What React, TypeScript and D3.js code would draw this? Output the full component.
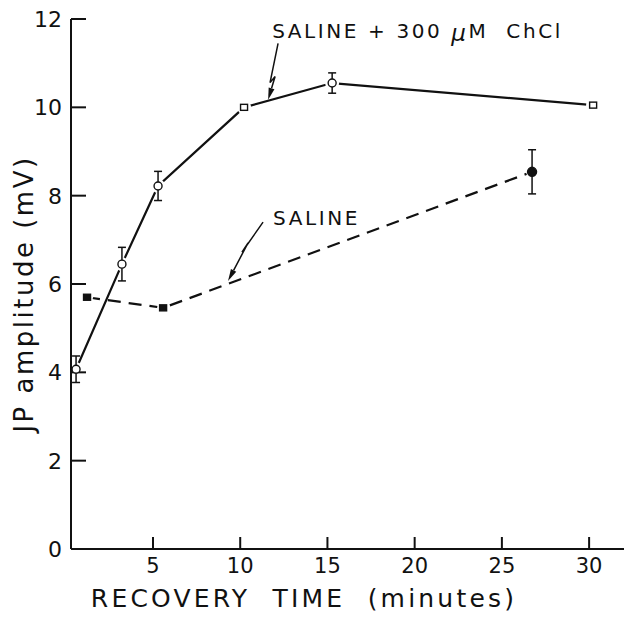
import * as d3 from 'd3';

// Saline + 300 uM ChCl (open markers, solid line)
const chclTime = [0.59, 3.22, 5.29, 10.22, 15.27, 30.23];
const chclAmp = [4.07, 6.45, 8.22, 10.0, 10.55, 10.05];
const chclErr = [0.3, 0.38, 0.33, 0.04, 0.23, 0.04];
const chclShape = ['circle', 'circle', 'circle', 'square', 'circle', 'square'];

// Saline (filled markers, dashed line)
const salTime = [1.22, 5.58, 26.73];
const salAmp = [5.7, 5.46, 8.54];
const salErr = [0.04, 0.04, 0.5];
const salShape = ['square', 'square', 'circle'];

const yTicks = [0, 2, 4, 6, 8, 10, 12];
const xTicks = [5, 10, 15, 20, 25, 30];

// annotation arrows (zigzag), in data units
const chclArrow: [number, number][] = [
  [12.17, 11.45],
  [11.71, 10.56],
  [12.0, 10.7],
  [11.6, 10.17],
];
const salArrow: [number, number][] = [
  [11.31, 7.4],
  [10.1, 6.72],
  [10.45, 6.93],
  [9.3, 6.07],
];

const W = 624;
const H = 617;
const FONT = '"DejaVu Sans", sans-serif';

export default function App() {
  const x = d3.scaleLinear().domain([0.3, 32]).range([71, 624]);
  const y = d3.scaleLinear().domain([0, 12]).range([549, 19]);

  const line = d3
    .line<[number, number]>()
    .x((d) => x(d[0]))
    .y((d) => y(d[1]));

  const chclPts = chclTime.map((t, i) => [t, chclAmp[i]] as [number, number]);
  const salPts = salTime.map((t, i) => [t, salAmp[i]] as [number, number]);

  const arrow = (pts: [number, number][], key: string) => {
    const px = pts.map((p) => [x(p[0]), y(p[1])]);
    const [tx, ty] = px[px.length - 1];
    const [sx, sy] = px[px.length - 2];
    const len = Math.hypot(tx - sx, ty - sy);
    const ux = (tx - sx) / len;
    const uy = (ty - sy) / len;
    const hl = 12;
    const hw = 3;
    const bx = tx - ux * hl;
    const by = ty - uy * hl;
    const head = `${tx},${ty} ${bx - uy * hw},${by + ux * hw} ${bx + uy * hw},${by - ux * hw}`;
    return (
      <g key={key}>
        <path
          d={line(pts.slice(0, -1).concat([[x.invert(bx), y.invert(by)]]))!}
          fill="none"
          stroke="#111"
          strokeWidth={1.5}
          strokeLinejoin="miter"
        />
        <polygon points={head} fill="#111" />
      </g>
    );
  };

  const marker = (
    t: number,
    v: number,
    shape: string,
    filled: boolean,
    key: string
  ) => {
    const cx = x(t);
    const cy = y(v);
    if (shape === 'circle') {
      return (
        <circle
          key={key}
          cx={cx}
          cy={cy}
          r={filled ? 4.5 : 4}
          fill={filled ? '#111' : '#fff'}
          stroke="#111"
          strokeWidth={1.4}
        />
      );
    }
    return (
      <rect
        key={key}
        x={cx - 3.5}
        y={cy - 3}
        width={7}
        height={6}
        fill={filled ? '#111' : '#fff'}
        stroke="#111"
        strokeWidth={1.4}
      />
    );
  };

  const errBar = (t: number, v: number, e: number, key: string) => {
    if (e < 0.1) return null;
    const cx = x(t);
    return (
      <g key={key} stroke="#111" strokeWidth={1.5}>
        <line x1={cx} x2={cx} y1={y(v + e)} y2={y(v - e)} />
        <line x1={cx - 4} x2={cx + 4} y1={y(v + e)} y2={y(v + e)} />
        <line x1={cx - 4} x2={cx + 4} y1={y(v - e)} y2={y(v - e)} />
      </g>
    );
  };

  return (
    <svg
      width={W}
      height={H}
      style={{ position: 'absolute', left: 0, top: 0, background: '#fff', fontFamily: FONT }}
    >
      {/* series lines */}
      <path d={line(chclPts)!} fill="none" stroke="#111" strokeWidth={2.2} />
      <path
        d={line(salPts)!}
        fill="none"
        stroke="#111"
        strokeWidth={2.2}
        strokeDasharray="13,8"
      />

      {/* halos that open small gaps where lines meet markers */}
      {chclPts.map((p, i) => (
        <circle key={'h' + i} cx={x(p[0])} cy={y(p[1])} r={7} fill="#fff" />
      ))}
      {salPts.map((p, i) => (
        <circle key={'s' + i} cx={x(p[0])} cy={y(p[1])} r={6} fill="#fff" />
      ))}

      {/* axes */}
      <g stroke="#111" strokeWidth={2} fill="none">
        <line x1={x(0.3)} x2={x(0.3)} y1={y(12)} y2={y(0)} />
        <line x1={x(0.3)} x2={W} y1={y(0)} y2={y(0)} />
        {yTicks
          .filter((t) => t > 0)
          .map((t) => (
            <line key={t} x1={x(0.3)} x2={x(0.3) + 15} y1={y(t)} y2={y(t)} />
          ))}
        {xTicks.map((t) => (
          <line key={t} x1={x(t)} x2={x(t)} y1={y(0)} y2={y(0) - 12} />
        ))}
      </g>
      {yTicks.map((t) => (
        <text key={t} x={x(0.3) - 9} y={y(t) + 8} fontSize={22} textAnchor="end" fill="#111">
          {t}
        </text>
      ))}
      {xTicks.map((t) => (
        <text key={t} x={x(t)} y={y(0) + 24} fontSize={21} textAnchor="middle" fill="#111">
          {t}
        </text>
      ))}

      {/* axis titles */}
      <text
        x={304}
        y={607}
        fontSize={25}
        textAnchor="middle"
        letterSpacing={3.2}
        fill="#111"
        style={{ whiteSpace: 'pre' }}
      >
        {'RECOVERY  TIME  (minutes)'}
      </text>
      <text
        transform="translate(33,294) rotate(-90)"
        fontSize={26}
        textAnchor="middle"
        letterSpacing={2.5}
        fill="#111"
        style={{ whiteSpace: 'pre' }}
      >
        {'JP amplitude (mV)'}
      </text>

      {chclPts.map((p, i) => errBar(p[0], p[1], chclErr[i], 'ce' + i))}
      {salPts.map((p, i) => errBar(p[0], p[1], salErr[i], 'se' + i))}
      {chclPts.map((p, i) => marker(p[0], p[1], chclShape[i], false, 'cm' + i))}
      {salPts.map((p, i) => marker(p[0], p[1], salShape[i], true, 'sm' + i))}

      {/* annotations */}
      {arrow(chclArrow, 'a1')}
      {arrow(salArrow, 'a2')}
      <text
        x={x(11.83)}
        y={y(11.57)}
        fontSize={20}
        letterSpacing={2.6}
        fill="#111"
        style={{ whiteSpace: 'pre' }}
      >
        {'SALINE + 300 '}
        <tspan fontStyle="italic" fontSize={23} dy={3}>
          μ
        </tspan>
        <tspan dy={-3}>{'M  ChCl'}</tspan>
      </text>
      <text x={x(11.88)} y={y(7.34)} fontSize={20} letterSpacing={2.6} fill="#111">
        SALINE
      </text>
    </svg>
  );
}
